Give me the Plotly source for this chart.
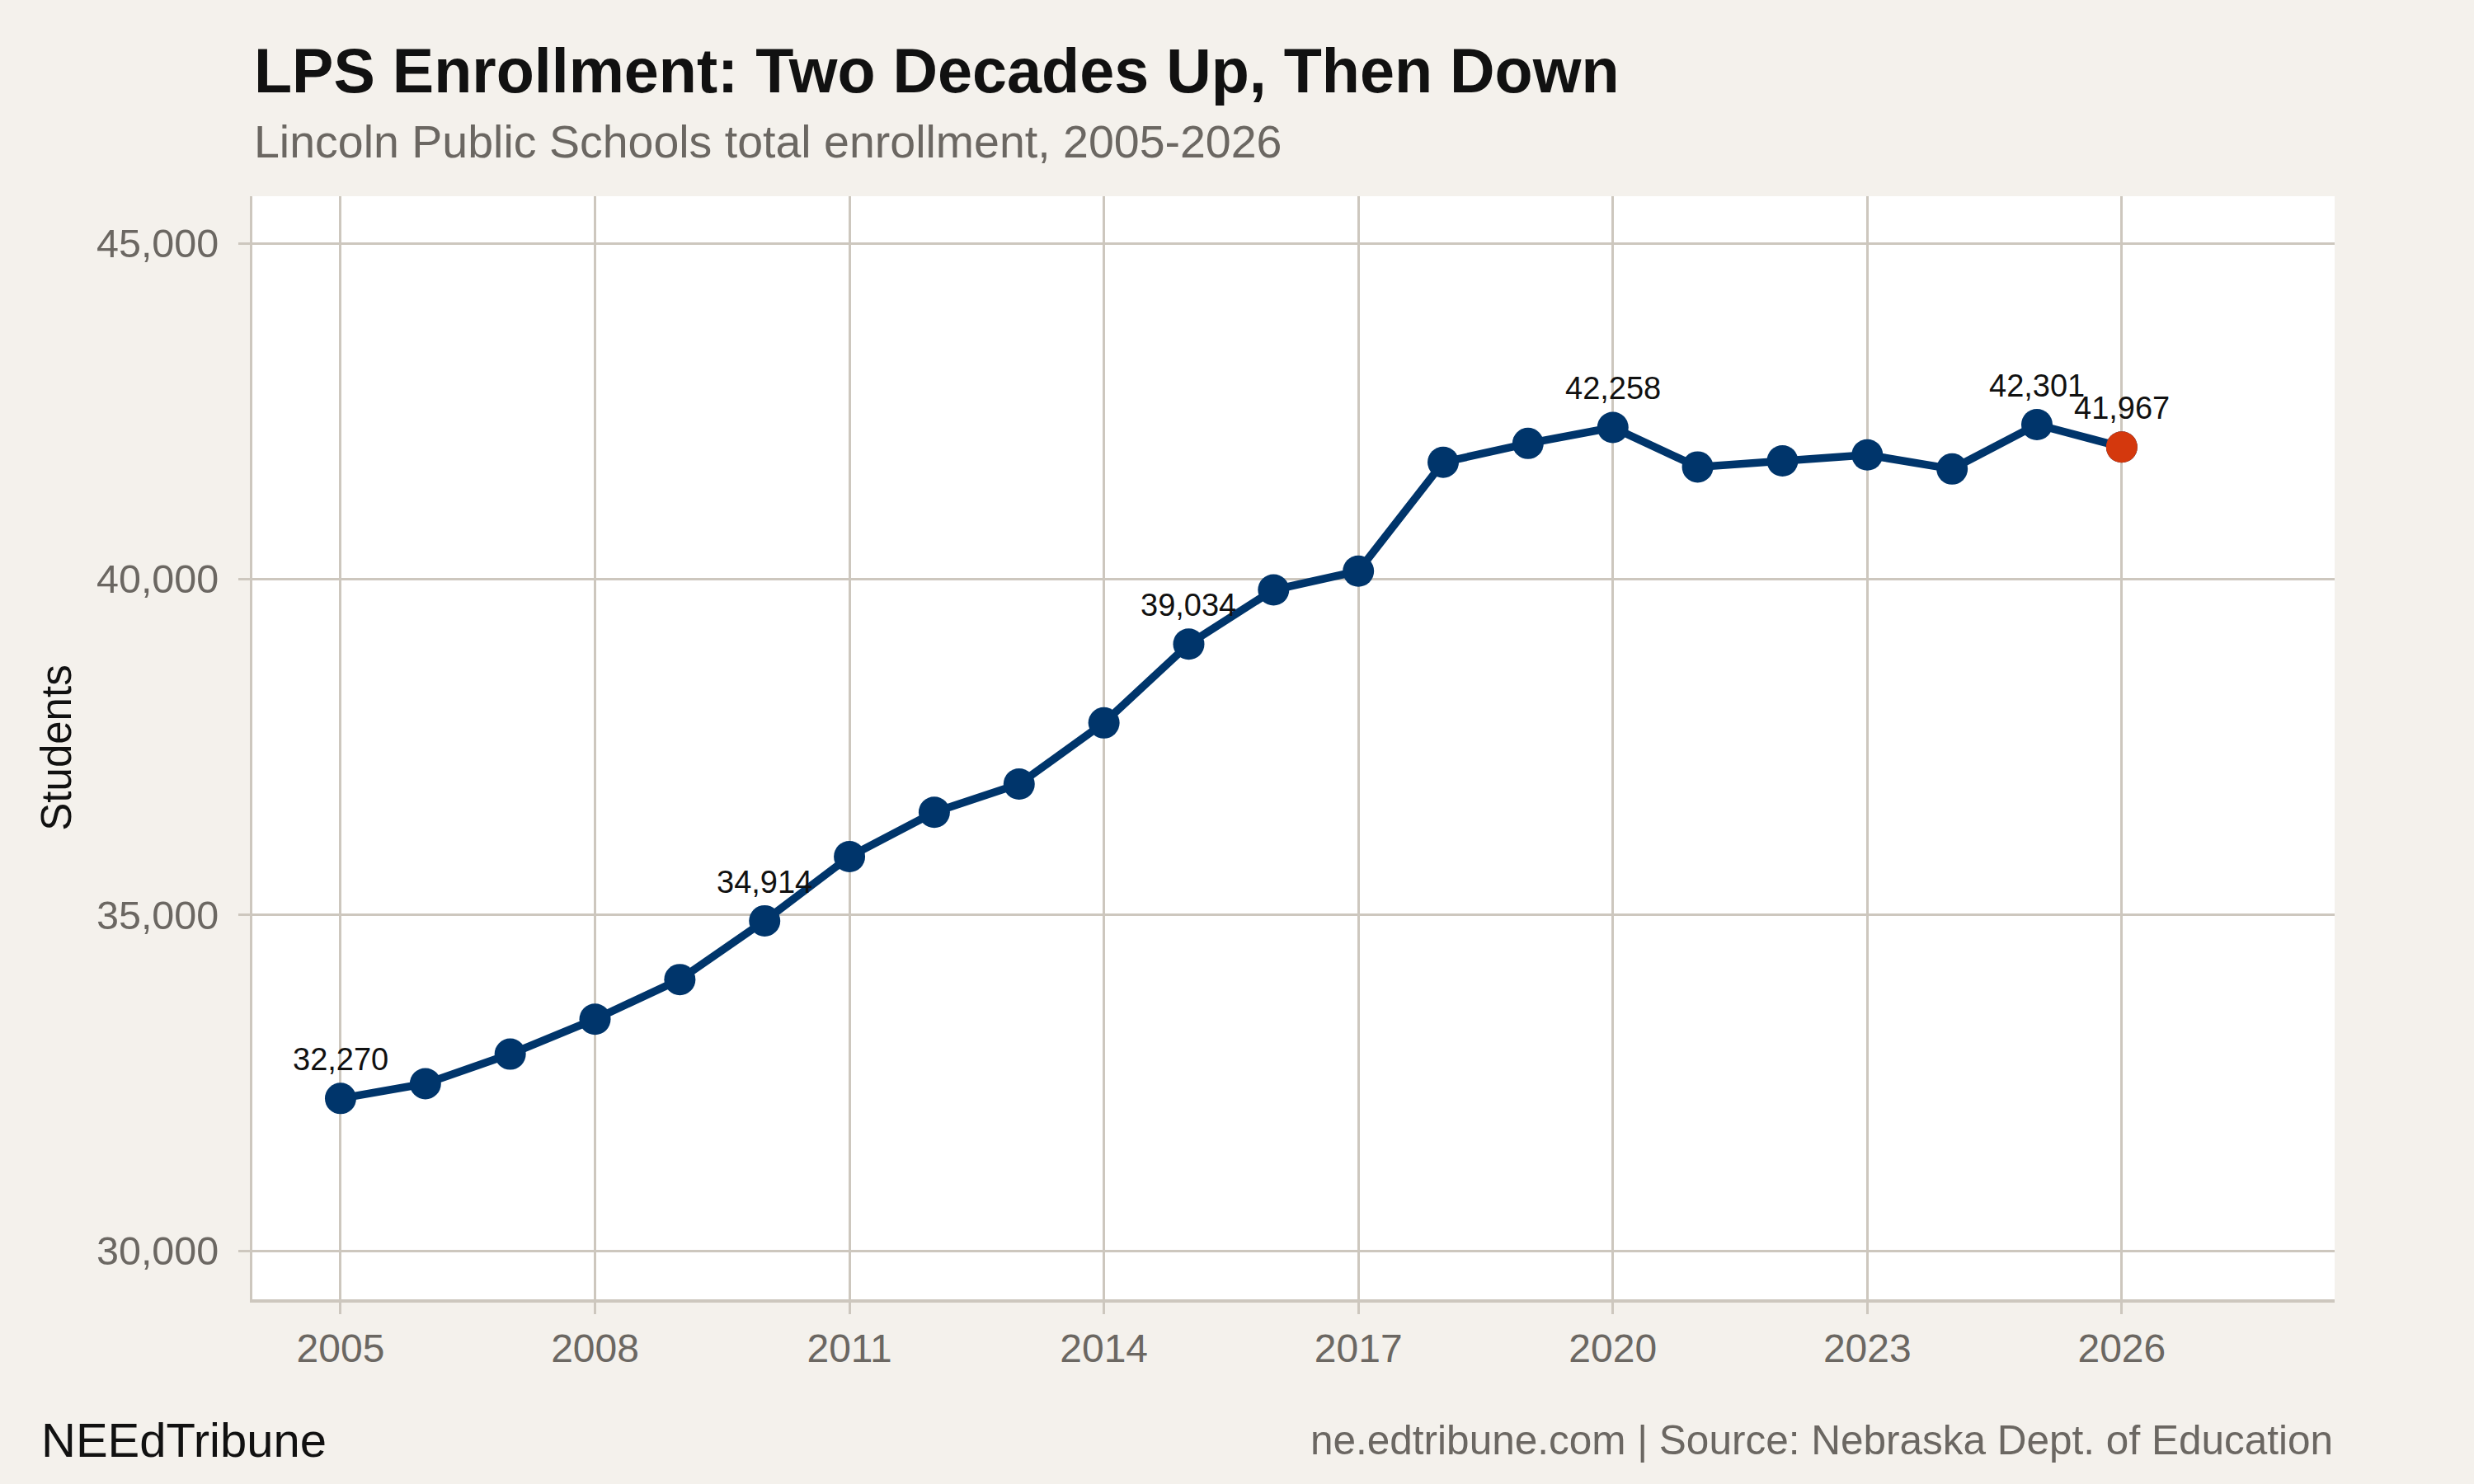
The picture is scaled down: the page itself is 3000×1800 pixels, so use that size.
import plotly.graph_objects as go

years = list(range(2005, 2027))
enrollment = [32270, 32490, 32930, 33450, 34040, 34914, 35870, 36530, 36950, 37860,
              39034, 39840, 40120, 41740, 42020, 42258, 41670, 41760, 41850, 41640,
              42301, 41967]
labeled_years = [2005, 2010, 2015, 2020, 2025, 2026]
x_ticks = [2005, 2008, 2011, 2014, 2017, 2020, 2023, 2026]
y_ticks = [30000, 35000, 40000, 45000]

NAVY = "#00356B"
ORANGE = "#D4380D"
GRID = "#CDC7BE"
BG = "#F4F1EC"
FONT = "Liberation Sans"

W, H = 3000, 1800
L, R, T, B = 306, 169, 238, 224
PW = W - L - R
PH = H - T - B

def px_x(px):
    return (px - L) / PW

def px_y(py):
    return (H - B - py) / PH

fig = go.Figure()
fig.add_trace(go.Scatter(
    x=years, y=enrollment, mode="lines+markers",
    line=dict(color=NAVY, width=9.5),
    marker=dict(color=NAVY, size=38),
    hoverinfo="skip", showlegend=False, cliponaxis=False,
))
fig.add_trace(go.Scatter(
    x=[years[-1]], y=[enrollment[-1]], mode="markers",
    marker=dict(color=ORANGE, size=38),
    hoverinfo="skip", showlegend=False, cliponaxis=False,
))

for yr, val in zip(years, enrollment):
    if yr in labeled_years:
        fig.add_annotation(
            x=yr, y=val, text=f"{val:,}", showarrow=False,
            yanchor="bottom", yshift=24,
            font=dict(family=FONT, size=38, color="#111111"),
        )

annots = [
    dict(text="<b>LPS Enrollment: Two Decades Up, Then Down</b>", x=0, y=px_y(86),
         xanchor="left", yanchor="middle", font=dict(family=FONT, size=75.5, color="#111111")),
    dict(text="Lincoln Public Schools total enrollment, 2005-2026", x=0, y=px_y(172),
         xanchor="left", yanchor="middle", font=dict(family=FONT, size=55.5, color="#6B6762")),
    dict(text="NEEdTribune", x=px_x(48), y=px_y(1746),
         xanchor="left", yanchor="middle", font=dict(family=FONT, size=58, color="#111111")),
    dict(text="ne.edtribune.com | Source: Nebraska Dept. of Education", x=1, y=px_y(1746),
         xanchor="right", yanchor="middle", font=dict(family=FONT, size=49.5, color="#6B6762")),
]
for a in annots:
    fig.add_annotation(xref="paper", yref="paper", showarrow=False, **a)

fig.update_layout(
    width=W, height=H,
    paper_bgcolor=BG, plot_bgcolor="white",
    margin=dict(l=L, r=R, t=T, b=B),
    font=dict(family=FONT),
    showlegend=False,
)
fig.update_xaxes(
    range=[2003.96, 2028.51], tickvals=x_ticks, ticktext=[str(v) for v in x_ticks],
    showgrid=True, gridcolor=GRID, gridwidth=3,
    showline=True, linecolor=GRID, linewidth=4,
    ticks="outside", ticklen=14, tickwidth=3, tickcolor=GRID,
    tickfont=dict(family=FONT, size=48, color="#6B6762"),
    zeroline=False,
)
fig.update_yaxes(
    range=[29280, 45700], tickvals=y_ticks, tickformat=",",
    showgrid=True, gridcolor=GRID, gridwidth=3,
    showline=True, linecolor=GRID, linewidth=3,
    ticks="outside", ticklen=14, tickwidth=3, tickcolor=GRID,
    ticklabelstandoff=14,
    tickfont=dict(family=FONT, size=48.5, color="#6B6762"),
    title=dict(text="Students", font=dict(family=FONT, size=51, color="#111111"), standoff=15),
    zeroline=False,
)

fig.write_html("out.html", config={"displayModeBar": False},
               post_script="document.body.style.margin='0';")
